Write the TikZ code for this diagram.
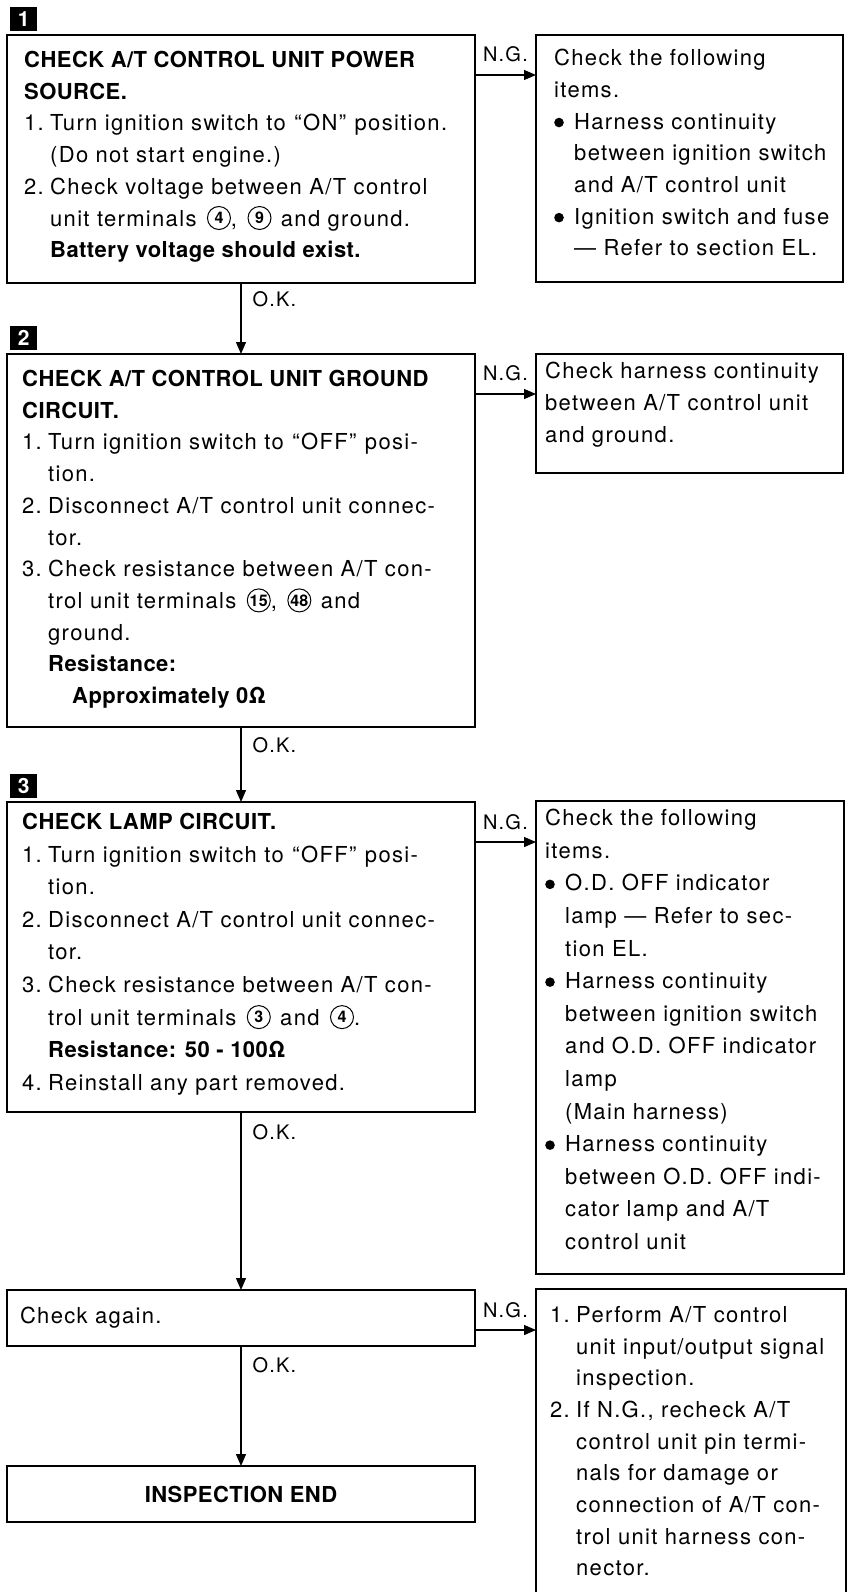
\documentclass[tikz,border=0pt]{standalone}
\usepackage{fontspec}
\setmainfont{TeX Gyre Heros}[LetterSpace=6, BoldFeatures={LetterSpace=2}]
\usetikzlibrary{arrows.meta}

% circled terminal number, bullet and item number
\newcommand{\term}[1]{\hspace{3pt}\tikz[baseline={([yshift=4pt]tn.south)}]
  \node[draw, circle, line width=1pt, minimum size=23pt, inner sep=0pt,
        font=\fontsize{16}{16}\selectfont\bfseries] (tn) {#1};}
\newcommand{\blt}{\makebox[20pt][l]{\tikz[baseline=0pt]\fill (4.5pt,6.5pt) circle[radius=4.8pt];}}
\newcommand{\nr}[1]{\makebox[26pt][l]{#1}}
\newcommand{\ind}{\hspace*{26pt}}
\newcommand{\q}[1]{\kern1pt``\kern1.5pt#1\kern1.5pt''\kern1pt\relax}

\begin{document}
\begin{tikzpicture}[x=1pt, y=-1pt,
    box/.style     = {draw, line width=1.7pt, inner sep=0pt, outer sep=0pt, anchor = north west},
    txt/.style     = {align=left, inner sep=0pt, anchor = north west, font=\fontsize{22}{31.7}\selectfont},
    txtwide/.style = {txt, font=\fontsize{22}{32.6}\selectfont},
    icon/.style    = {fill=black, text=white, minimum width=27pt, minimum height=24pt, inner sep=0pt,
                      anchor = north west, font=\fontsize{21}{21}\selectfont\bfseries},
    flow/.style    = {line width=1.3pt, -{Triangle[length=12pt, width=10pt]}},
    lbl/.style     = {inner sep=0pt, font=\fontsize{20}{20}\selectfont}]
    \useasboundingbox (0,0) rectangle (851,1592);
    \fill[white] (0,0) rectangle (851,1592);
    \clip (0,0) rectangle (851,1592);

    % step 1
    \node[icon] (s1) at (10,7) {1};
    \node[box, minimum width=468pt, minimum height=248pt] (b1) at (7,35) {};
    \node[txt] (b1txt) at (24,51) {\textbf{CHECK A/T CONTROL UNIT POWER}\\
        \textbf{SOURCE.}\\
        \nr{1.}Turn ignition switch to \q{ON} position.\\
        \ind(Do not start engine.)\\
        \nr{2.}Check voltage between A/T control\\
        \ind unit terminals \term{4}, \term{9} \hspace{2pt}and ground.\\
        \ind\textbf{Battery voltage should exist.}};
    \node[box, minimum width=307pt, minimum height=247pt] (r1) at (536,35) {};
    \node[txt] (r1txt) at (554,49) {Check the following\\
        items.\\
        \blt Harness continuity\\
        \hspace*{20pt}between ignition switch\\
        \hspace*{20pt}and A/T control unit\\
        \blt Ignition switch and fuse\\
        \hspace*{20pt}--- Refer to section EL.};

    % step 2
    \node[icon] (s2) at (10,326) {2};
    \node[box, minimum width=468pt, minimum height=373pt] (b2) at (7,354) {};
    \node[txt] (b2txt) at (22,370) {\textbf{CHECK A/T CONTROL UNIT GROUND}\\
        \textbf{CIRCUIT.}\\
        \nr{1.}Turn ignition switch to \q{OFF} posi-\\
        \ind tion.\\
        \nr{2.}Disconnect A/T control unit connec-\\
        \ind tor.\\
        \nr{3.}Check resistance between A/T con-\\
        \ind trol unit terminals \term{15}, \term{48} \hspace{2pt}and\\
        \ind ground.\\
        \ind\textbf{Resistance:}\\
        \ind\hspace*{24pt}\textbf{Approximately 0Ω}};
    \node[box, minimum width=307pt, minimum height=119pt] (r2) at (536,354) {};
    \node[txt] (r2txt) at (545,362) {Check harness continuity\\
        between A/T control unit\\
        and ground.};

    % step 3
    \node[icon] (s3) at (10,774) {3};
    \node[box, minimum width=468pt, minimum height=310pt] (b3) at (7,802) {};
    \node[txtwide] (b3txt) at (22,813) {\textbf{CHECK LAMP CIRCUIT.}\\
        \nr{1.}Turn ignition switch to \q{OFF} posi-\\
        \ind tion.\\
        \nr{2.}Disconnect A/T control unit connec-\\
        \ind tor.\\
        \nr{3.}Check resistance between A/T con-\\
        \ind trol unit terminals \term{3} \hspace{2pt}and \term{4}.\\
        \ind\textbf{Resistance: 50 - 100Ω}\\
        \nr{4.}Reinstall any part removed.};
    \node[box, minimum width=308pt, minimum height=473pt] (r3) at (536,801) {};
    \node[txtwide] (r3txt) at (545,809) {Check the following\\
        items.\\
        \blt O.D. OFF indicator\\
        \hspace*{20pt}lamp --- Refer to sec-\\
        \hspace*{20pt}tion EL.\\
        \blt Harness continuity\\
        \hspace*{20pt}between ignition switch\\
        \hspace*{20pt}and O.D. OFF indicator\\
        \hspace*{20pt}lamp\\
        \hspace*{20pt}(Main harness)\\
        \blt Harness continuity\\
        \hspace*{20pt}between O.D. OFF indi-\\
        \hspace*{20pt}cator lamp and A/T\\
        \hspace*{20pt}control unit};

    % check again / end
    \node[box, minimum width=468pt, minimum height=56pt, text width=442pt, align=left,
          font=\fontsize{22}{26}\selectfont] (ck) at (7,1290) {Check again.};
    \node[box, minimum width=310pt, minimum height=311pt] (r4) at (536,1289) {};
    \node[txt] (r4txt) at (550,1306) {\nr{1.}Perform A/T control\\
        \ind unit input/output signal\\
        \ind inspection.\\
        \nr{2.}If N.G., recheck A/T\\
        \ind control unit pin termi-\\
        \ind nals for damage or\\
        \ind connection of A/T con-\\
        \ind trol unit harness con-\\
        \ind nector.};
    \node[box, minimum width=468pt, minimum height=56pt,
          font=\fontsize{22}{26}\selectfont\bfseries] (ie) at (7,1466) {INSPECTION END};

    % O.K. connectors
    \draw[flow] (b1.south) -- node[lbl, pos=0, anchor = north west, xshift=11pt, yshift=-8pt] (ok1) {O.K.} (b2.north);
    \draw[flow] (b2.south) -- node[lbl, pos=0, anchor = north west, xshift=11pt, yshift=-10pt] (ok2) {O.K.} (b3.north);
    \draw[flow] (b3.south) -- node[lbl, pos=0, anchor = north west, xshift=11pt, yshift=-12pt] (ok3) {O.K.} (ck.north);
    \draw[flow] (ck.south) -- node[lbl, pos=0, anchor = north west, xshift=11pt, yshift=-11pt] (ok4) {O.K.} (ie.north);

    % N.G. connectors
    \draw[flow] ([yshift=-40pt]b1.north east) -- node[lbl, above=12pt] (ng1) {N.G.} ([yshift=-40pt]b1.north east -| r1.west);
    \draw[flow] ([yshift=-40pt]b2.north east) -- node[lbl, above=12pt] (ng2) {N.G.} ([yshift=-40pt]b2.north east -| r2.west);
    \draw[flow] ([yshift=-40pt]b3.north east) -- node[lbl, above=12pt] (ng3) {N.G.} ([yshift=-40pt]b3.north east -| r3.west);
    \draw[flow] ([yshift=-40pt]ck.north east) -- node[lbl, above=12pt] (ng4) {N.G.} ([yshift=-40pt]ck.north east -| r4.west);
\end{tikzpicture}
\end{document}
